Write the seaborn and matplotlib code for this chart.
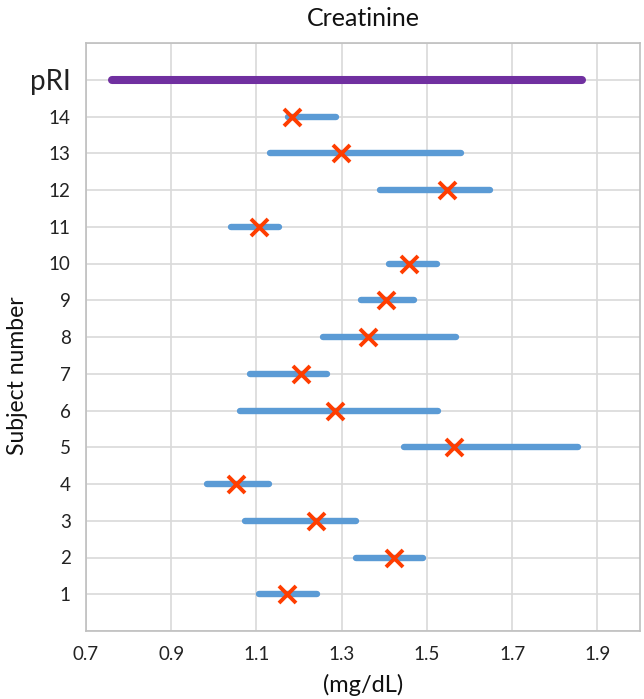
import matplotlib
matplotlib.use("Agg")
import matplotlib.pyplot as plt
import seaborn as sns
import pandas as pd
import numpy as np

subjects = list(range(1, 15))
low = [1.107, 1.333, 1.073, 0.983, 1.446, 1.062, 1.085, 1.255, 1.345, 1.412, 1.040, 1.390, 1.131, 1.174]
high = [1.243, 1.491, 1.333, 1.129, 1.855, 1.525, 1.265, 1.569, 1.469, 1.524, 1.152, 1.649, 1.581, 1.286]
mean = [1.171, 1.422, 1.239, 1.052, 1.564, 1.284, 1.205, 1.362, 1.404, 1.459, 1.107, 1.548, 1.299, 1.184]
pri_low, pri_high = 0.760, 1.865
xticks = [0.7, 0.9, 1.1, 1.3, 1.5, 1.7, 1.9]

df = pd.DataFrame({"subject": subjects, "low": low, "high": high, "mean": mean})

sns.set_theme(style="white")
plt.rcParams['font.family'] = ['Lato', 'DejaVu Sans']

fig = plt.figure(figsize=(6.44, 6.99), dpi=100)
ax = fig.add_axes([86/644, 1-631/699, (640-86)/644, (631-43)/699])

# grid
ax.set_axisbelow(True)
for v in xticks:
    ax.axvline(v, color="#D9D9D9", lw=1.2, zorder=0)
for yv in range(0, 17):
    ax.axhline(yv, color="#D9D9D9", lw=1.2, zorder=0)

lc = ax.hlines(df["subject"], df["low"], df["high"], color="#5B9BD5", lw=4.6, zorder=2)
lc.set_capstyle("round")
lc2 = ax.hlines([15], [pri_low], [pri_high], color="#7030A0", lw=5.8, zorder=2)
lc2.set_capstyle("round")

sns.scatterplot(data=df, x="mean", y="subject", marker="x", s=150, color="#FF3D00",
                linewidth=2.8, ax=ax, zorder=3, legend=False)

ax.set_xlim(0.7, 2.0)
ax.set_ylim(0, 16)
ax.set_xticks(xticks)
ax.set_xticklabels([f"{v:.1f}" for v in xticks], fontsize=13.5, color="#222222")
ax.set_yticks(list(range(1, 16)))
ylabels = [str(s) for s in subjects] + ["pRI"]
ax.set_yticklabels(ylabels, fontsize=13.5, color="#222222")
ax.get_yticklabels()[-1].set_fontsize(20)
ax.tick_params(axis="x", length=0, pad=11)
ax.tick_params(axis="y", length=5, color="#D9D9D9", pad=6)

for s in ax.spines.values():
    s.set_color("#BFBFBF")
    s.set_linewidth(1.2)

ax.set_xlabel("(mg/dL)", fontsize=17, color="#111111", labelpad=8)
ax.set_ylabel("Subject number", fontsize=16.5, color="#111111")
ax.yaxis.set_label_coords(-0.104, 0.435)
ax.set_title("Creatinine", fontsize=18, color="#111111", pad=12)

fig.savefig("out.png", dpi=100)
